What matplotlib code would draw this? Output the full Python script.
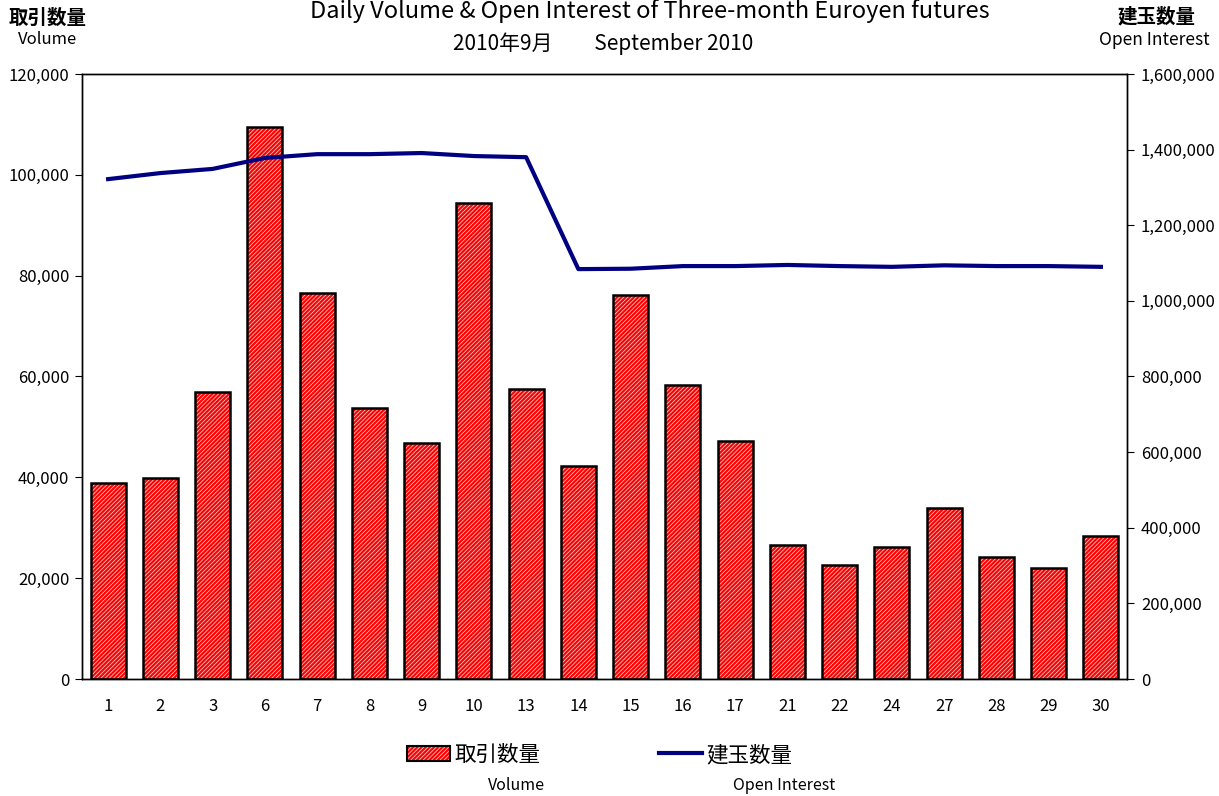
import matplotlib
matplotlib.use('Agg')
from matplotlib import pyplot as plt
from matplotlib.ticker import FuncFormatter, MultipleLocator
from matplotlib.patches import Patch
from matplotlib.lines import Line2D

plt.rcParams['font.family'] = ['Noto Sans CJK JP', 'DejaVu Sans']
plt.rcParams['hatch.linewidth'] = 0.55

days = ['1', '2', '3', '6', '7', '8', '9', '10', '13', '14',
        '15', '16', '17', '21', '22', '24', '27', '28', '29', '30']
volume = [38900, 39900, 56900, 109500, 76600, 53700, 46800, 94400, 57500, 42200,
          76200, 58300, 47200, 26600, 22600, 26200, 33900, 24200, 22000, 28400]
open_interest = [1322000, 1338000, 1349000, 1378000, 1388000, 1388000, 1391000, 1383000, 1380000, 1084000,
                 1085000, 1092000, 1092000, 1095000, 1092000, 1090000, 1094000, 1092000, 1092000, 1090000]

RED = '#ff0000'
NAVY = '#000080'
HATCH = '////////'

fig = plt.figure(figsize=(12.19, 7.96), dpi=100)
ax = fig.add_axes([82 / 1219, 1 - 679 / 796, (1127 - 82) / 1219, (679 - 74) / 796])
x = range(len(days))

# red fill with white diagonal hatch, then black outline on top
ax.bar(x, volume, width=0.67, color=RED, edgecolor='#ffd0d0', hatch=HATCH, linewidth=0, zorder=2)
ax.bar(x, volume, width=0.67, fill=False, edgecolor='black', linewidth=1.8, zorder=3)
ax.set_xlim(-0.5, len(days) - 0.5)
ax.set_ylim(0, 120000)
ax.yaxis.set_major_locator(MultipleLocator(20000))
ax.yaxis.set_major_formatter(FuncFormatter(lambda v, p: '{:,.0f}'.format(v)))
ax.set_xticks(list(x))
ax.set_xticklabels(days)
ax.tick_params(axis='x', length=0, pad=14, labelsize=12)
ax.tick_params(axis='y', direction='out', length=5, labelsize=12, pad=4)

ax2 = ax.twinx()
ax2.plot(x, open_interest, color=NAVY, linewidth=3, zorder=4)
ax2.set_ylim(0, 1600000)
ax2.yaxis.set_major_locator(MultipleLocator(200000))
ax2.yaxis.set_major_formatter(FuncFormatter(lambda v, p: '{:,.0f}'.format(v)))
ax2.tick_params(axis='y', direction='out', length=5, labelsize=12, pad=5)

for a in (ax, ax2):
    for s in a.spines.values():
        s.set_linewidth(1)
        s.set_color('black')

fig.text(650 / 1219, 1 - 11 / 796, 'Daily Volume & Open Interest of Three-month Euroyen futures',
         ha='center', va='center', fontsize=17)
fig.text(603 / 1219, 1 - 44 / 796, '2010年9月　　September 2010', ha='center', va='center', fontsize=15)

fig.text(48 / 1219, 1 - 18 / 796, '取引数量', ha='center', va='center', fontsize=14, fontweight='bold')
fig.text(48 / 1219, 1 - 40 / 796, 'Volume', ha='center', va='center', fontsize=12)
fig.text(1156 / 1219, 1 - 17 / 796, '建玉数量', ha='center', va='center', fontsize=14, fontweight='bold')
fig.text(1154 / 1219, 1 - 40 / 796, 'Open Interest', ha='center', va='center', fontsize=12.5)

# legend
bar_handle = (Patch(facecolor=RED, edgecolor='#ffd0d0', hatch=HATCH, linewidth=0),
              Patch(fill=False, edgecolor='black', linewidth=1.5))
line_handle = Line2D([0], [0], color=NAVY, linewidth=3)
fig.legend([bar_handle, line_handle], ['取引数量', '建玉数量'], loc='center',
           bbox_to_anchor=(600 / 1219, 1 - 755 / 796), ncol=2, frameon=False, fontsize=15.5,
           columnspacing=5.5, handlelength=2.0, handletextpad=0.2)
fig.text(516 / 1219, 1 - 785 / 796, 'Volume', ha='center', va='center', fontsize=11.5)
fig.text(784 / 1219, 1 - 785 / 796, 'Open Interest', ha='center', va='center', fontsize=11.5)

plt.savefig('out.png', dpi=100)
